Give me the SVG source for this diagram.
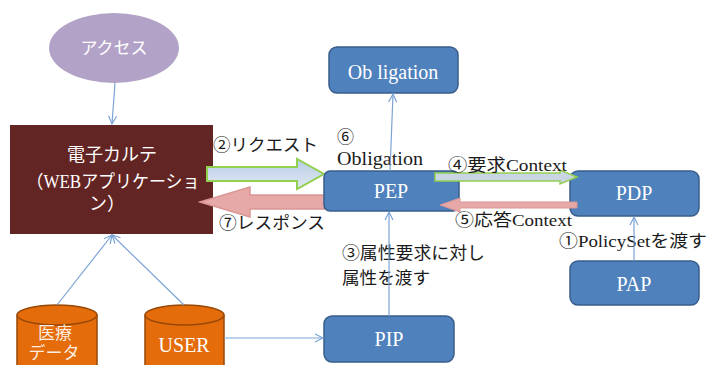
<svg xmlns="http://www.w3.org/2000/svg" width="708" height="365" viewBox="0 0 708 365">
<style>
text{font-family:"Liberation Serif","Noto Sans CJK JP",serif;}
.lbl{font-size:17px;fill:#1a1a1a;}
.wt{fill:#ffffff;text-anchor:middle;}
.box{fill:#4f81bd;stroke:#385d8a;stroke-width:1.5;}
.cyl{fill:#e46c0a;stroke:#984806;stroke-width:1.5;}
.conn{stroke:#7ba3d6;stroke-width:1.2;fill:none;marker-end:url(#ah);}
</style>
<defs>
<marker id="ah" markerUnits="userSpaceOnUse" markerWidth="12" markerHeight="12" refX="9" refY="5" orient="auto">
<path d="M1,1 L9,5 L1,9" fill="none" stroke="#7ba3d6" stroke-width="1.2"/>
</marker>
<linearGradient id="gb" x1="0" y1="0" x2="0" y2="1">
<stop offset="0" stop-color="#b9cde5"/>
<stop offset="1" stop-color="#dfe8f3"/>
</linearGradient>
</defs>

<g id="access">
<ellipse cx="114" cy="48" rx="65" ry="35" fill="#b3a2c7"/>
<text class="wt" x="114" y="54" font-size="17">アクセス</text>
</g>

<g id="emr">
<rect x="10" y="125" width="203" height="109" fill="#632523"/>
<text class="wt" x="112" y="161" font-size="18">電子カルテ</text>
<text class="wt" x="113" y="188" font-size="18" textLength="173" lengthAdjust="spacingAndGlyphs">（WEBアプリケーショ</text>
<text class="wt" x="107" y="210" font-size="18">ン）</text>
</g>

<g id="arrows-big">
<polygon points="200,202 250,187 250,195 325,195 325,209 250,209 250,217" fill="#e6a9a8" stroke="#d99694" stroke-width="1.5"/>
<polygon points="207,167 297,167 297,159 324,174 297,189 297,181 207,181" fill="url(#gb)" stroke="#92d050" stroke-width="2"/>
</g>

<g id="obligation">
<rect class="box" x="329" y="47" width="129" height="46" rx="8"/>
<text class="wt" x="393" y="79" font-size="20">Ob ligation</text>
</g>

<g id="pep">
<rect class="box" x="324" y="171" width="135" height="40" rx="6"/>
<text class="wt" x="391" y="198" font-size="20">PEP</text>
</g>

<g id="pdp">
<rect class="box" x="570" y="171" width="129" height="45" rx="8"/>
<text class="wt" x="634" y="200" font-size="20">PDP</text>
</g>

<g id="pap">
<rect class="box" x="570" y="261" width="129" height="44" rx="8"/>
<text class="wt" x="634" y="291" font-size="20">PAP</text>
</g>

<g id="pip">
<rect class="box" x="324" y="316" width="130" height="46" rx="8"/>
<text class="wt" x="389" y="346" font-size="20">PIP</text>
</g>

<g id="arrows-thin">
<polygon points="435,173 560,173 560,170 577,177 560,184 560,181 435,181" fill="#c9d5e3" stroke="#92d050" stroke-width="1.5"/>
<polygon points="440,205 460,198 460,202 577,202 577,208 460,208 460,212" fill="#e6a9a8" stroke="#d99694" stroke-width="1"/>
</g>

<g id="iryo">
<path class="cyl" d="M17,315 L17,366 L97,366 L97,315"/>
<ellipse class="cyl" cx="57" cy="315" rx="40" ry="10"/>
<text class="wt" x="55" y="339" font-size="17" fill-opacity="0.9">医療</text>
<text class="wt" x="54" y="359" font-size="17" fill-opacity="0.9">データ</text>
</g>

<g id="user">
<path class="cyl" d="M145,315 L145,366 L224,366 L224,315"/>
<ellipse class="cyl" cx="184.5" cy="315" rx="39.5" ry="10"/>
<text class="wt" x="184" y="352" font-size="20">USER</text>
</g>

<g id="labels">
<text class="lbl" x="213" y="151" textLength="105" lengthAdjust="spacingAndGlyphs">②リクエスト</text>
<text class="lbl" x="219" y="229" textLength="106" lengthAdjust="spacingAndGlyphs">⑦レスポンス</text>
<text class="lbl" x="337" y="143">⑥</text>
<text class="lbl" x="337" y="165" font-size="19" textLength="86" lengthAdjust="spacingAndGlyphs" style="font-size:19px">Obligation</text>
<text class="lbl" x="448" y="171" textLength="119" lengthAdjust="spacingAndGlyphs">④要求Context</text>
<text class="lbl" x="455" y="226" textLength="117" lengthAdjust="spacingAndGlyphs">⑤応答Context</text>
<text class="lbl" x="559" y="247" textLength="148" lengthAdjust="spacingAndGlyphs">①PolicySetを渡す</text>
<text class="lbl" x="342" y="259" textLength="143" lengthAdjust="spacingAndGlyphs">③属性要求に対し</text>
<text class="lbl" x="342" y="284" textLength="88" lengthAdjust="spacingAndGlyphs">属性を渡す</text>
</g>

<g id="connectors">
<line class="conn" x1="115" y1="83" x2="112" y2="124"/>
<line class="conn" x1="57" y1="305" x2="112" y2="235"/>
<line class="conn" x1="184" y1="305" x2="112" y2="235"/>
<line class="conn" x1="224" y1="338" x2="323" y2="338"/>
<line class="conn" x1="389" y1="316" x2="389" y2="212"/>
<line class="conn" x1="390" y1="171" x2="393" y2="94"/>
<line class="conn" x1="634" y1="261" x2="634" y2="217"/>
</g>
</svg>
